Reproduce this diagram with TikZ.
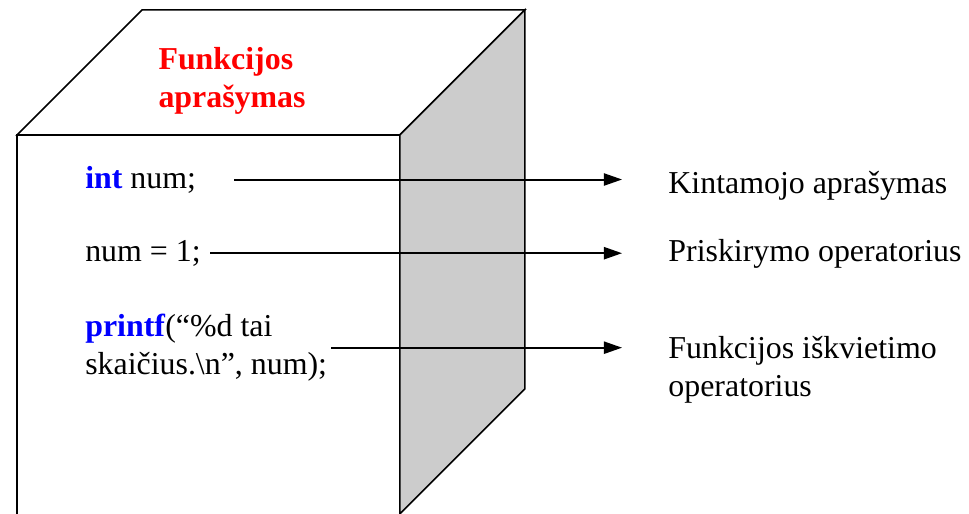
\documentclass[tikz,border=0pt]{standalone}
\usepackage{fontspec}
\setmainfont{Liberation Serif}
\usetikzlibrary{arrows.meta, positioning}
\definecolor{KwBlue}{HTML}{0000FF}
\definecolor{TitleRed}{HTML}{FF0000}
\definecolor{SideGray}{HTML}{CCCCCC}
\tikzset{
    % Cube faces
    face/.style={
        draw=black,
        line width=1.2pt,
        line join=miter
    },
    sideface/.style={
        face,
        fill=SideGray
    },
    % Text styles
    codetext/.style={
        anchor=west,
        inner sep=0pt,
        align=left,
        font=\fontsize{24}{28.5}\selectfont
    },
    labeltext/.style={
        codetext
    },
    titletext/.style={
        inner sep=0pt,
        align=left,
        text=TitleRed,
        font=\fontsize{24}{28.5}\selectfont\bfseries
    },
    % Arrow style
    myarrow/.style={
        -{Triangle[length=0.48cm,width=0.32cm]},
        line width=1.5pt,
        black
    }
}
\newcommand{\kw}[1]{\textcolor{KwBlue}{\textbf{#1}}}

\begin{document}
\begin{tikzpicture}
    \useasboundingbox (0,0) rectangle (25.64,13.6);

    % Box: front, top and shaded side
    \draw[face] (0.45,0) -- (0.45,10.03) -- (10.58,10.03) -- (10.58,0);
    \draw[face,fill=white] (0.45,10.03) -- (3.76,13.34) -- (13.89,13.34) -- (10.58,10.03) -- cycle;
    \draw[sideface] (10.58,10.03) -- (13.89,13.34) -- (13.89,3.31) -- (10.58,0) -- cycle;

    \node[titletext] (title) at (6.14,11.46) {Funkcijos\\aprašymas};

    % Code lines
    \node[codetext] (decl) at (2.25,8.85) {\kw{int} num;};
    \node[codetext] (assign) at (2.25,6.9) {num = 1;};
    \node[codetext] (call) at (2.25,4.4) {\kw{printf}(“\%d tai\\skaičius.\textbackslash n”, num);};

    % Explanations
    \node[labeltext] (declLbl) at (17.68,8.68) {Kintamojo aprašymas};
    \node[labeltext] (assignLbl) at (17.68,6.88) {Priskirymo operatorius};
    \node[labeltext] (callLbl) at (17.68,3.82) {Funkcijos iškvietimo\\operatorius};

    \draw[myarrow, shorten <=1cm, shorten >=1.22cm] (decl.east) -- (decl.east -| declLbl.west);
    \draw[myarrow, shorten <=0.25cm, shorten >=1.22cm] (assign.east) -- (assign.east -| assignLbl.west);
    \draw[myarrow, shorten <=0.1cm, shorten >=1.22cm] (call.east) -- (call.east -| callLbl.west);
\end{tikzpicture}
\end{document}
